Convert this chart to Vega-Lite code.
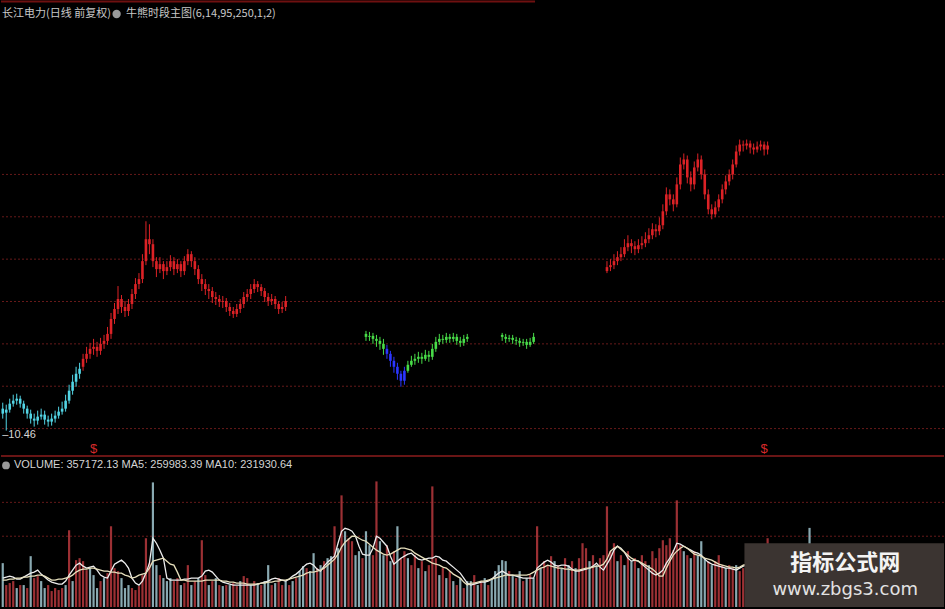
{
"$schema":"https://vega.github.io/schema/vega-lite/v6.json",
"width":945,"height":609,
"autosize":{"type":"fit","contains":"padding"},
"padding":0,
"background":"#000000",
"config":{"view":{"stroke":null},"axis":{"labels":false,"ticks":false,"domain":false,"grid":false,"minExtent":0,"maxExtent":0}},
"data":{"values":[
{"i":0,"o":11.01,"h":11.16,"l":10.76,"c":10.885,"s":"c","v":198000,"u":0,"m5":130500,"m10":121500},
{"i":1,"o":10.91,"h":11.11,"l":10.46,"c":10.985,"s":"c","v":99000,"u":1,"m5":135000,"m10":121500},
{"i":2,"o":10.985,"h":11.26,"l":10.91,"c":11.135,"s":"c","v":108000,"u":1,"m5":139500,"m10":126000},
{"i":3,"o":11.135,"h":11.36,"l":11.06,"c":11.21,"s":"c","v":117000,"u":1,"m5":135000,"m10":126000},
{"i":4,"o":11.21,"h":11.385,"l":11.11,"c":11.26,"s":"c","v":85500,"u":0,"m5":126000,"m10":130500},
{"i":5,"o":11.26,"h":11.335,"l":11.035,"c":11.135,"s":"c","v":99000,"u":1,"m5":126000,"m10":130500},
{"i":6,"o":11.135,"h":11.21,"l":10.885,"c":11.01,"s":"c","v":99000,"u":0,"m5":135000,"m10":135000},
{"i":7,"o":11.01,"h":11.085,"l":10.76,"c":10.885,"s":"c","v":85500,"u":1,"m5":144000,"m10":135000},
{"i":8,"o":10.885,"h":10.985,"l":10.635,"c":10.76,"s":"c","v":229500,"u":0,"m5":153000,"m10":139500},
{"i":9,"o":10.76,"h":10.885,"l":10.56,"c":10.71,"s":"c","v":130500,"u":1,"m5":157500,"m10":139500},
{"i":10,"o":10.71,"h":10.96,"l":10.61,"c":10.81,"s":"c","v":139500,"u":1,"m5":166500,"m10":144000},
{"i":11,"o":10.81,"h":11.01,"l":10.735,"c":10.86,"s":"c","v":117000,"u":0,"m5":148500,"m10":144000},
{"i":12,"o":10.86,"h":10.96,"l":10.61,"c":10.735,"s":"c","v":85500,"u":0,"m5":135000,"m10":139500},
{"i":13,"o":10.735,"h":10.835,"l":10.56,"c":10.685,"s":"c","v":99000,"u":1,"m5":121500,"m10":130500},
{"i":14,"o":10.685,"h":10.885,"l":10.585,"c":10.76,"s":"c","v":72000,"u":1,"m5":112500,"m10":121500},
{"i":15,"o":10.76,"h":10.96,"l":10.66,"c":10.835,"s":"c","v":85500,"u":1,"m5":108000,"m10":121500},
{"i":16,"o":10.835,"h":11.06,"l":10.76,"c":10.935,"s":"c","v":76500,"u":1,"m5":103500,"m10":126000},
{"i":17,"o":10.935,"h":11.185,"l":10.86,"c":11.01,"s":"c","v":85500,"u":1,"m5":103500,"m10":126000},
{"i":18,"o":11.01,"h":11.36,"l":10.935,"c":11.21,"s":"c","v":99000,"u":0,"m5":117000,"m10":130500},
{"i":19,"o":11.21,"h":11.61,"l":11.135,"c":11.46,"s":"c","v":346500,"u":1,"m5":144000,"m10":135000},
{"i":20,"o":11.46,"h":11.86,"l":11.36,"c":11.685,"s":"c","v":117000,"u":0,"m5":166500,"m10":144000},
{"i":21,"o":11.685,"h":12.06,"l":11.56,"c":11.885,"s":"c","v":211500,"u":1,"m5":189000,"m10":157500},
{"i":22,"o":11.885,"h":12.16,"l":11.76,"c":12.01,"s":"c","v":220500,"u":1,"m5":198000,"m10":166500},
{"i":23,"o":12.06,"h":12.385,"l":11.96,"c":12.26,"s":"r","v":207000,"u":1,"m5":184500,"m10":171000},
{"i":24,"o":12.26,"h":12.56,"l":12.16,"c":12.385,"s":"r","v":166500,"u":1,"m5":175500,"m10":171000},
{"i":25,"o":12.385,"h":12.66,"l":12.26,"c":12.51,"s":"r","v":175500,"u":0,"m5":180000,"m10":175500},
{"i":26,"o":12.51,"h":12.76,"l":12.36,"c":12.56,"s":"r","v":144000,"u":0,"m5":184500,"m10":175500,"sig":1},
{"i":27,"o":12.56,"h":12.685,"l":12.31,"c":12.46,"s":"r","v":85500,"u":0,"m5":166500,"m10":171000},
{"i":28,"o":12.46,"h":12.785,"l":12.36,"c":12.635,"s":"r","v":117000,"u":1,"m5":144000,"m10":166500},
{"i":29,"o":12.635,"h":12.86,"l":12.51,"c":12.71,"s":"r","v":130500,"u":0,"m5":135000,"m10":162000},
{"i":30,"o":12.71,"h":13.06,"l":12.61,"c":12.885,"s":"r","v":153000,"u":1,"m5":130500,"m10":162000},
{"i":31,"o":12.885,"h":13.41,"l":12.76,"c":13.26,"s":"r","v":364500,"u":1,"m5":162000,"m10":157500},
{"i":32,"o":13.26,"h":13.66,"l":13.135,"c":13.51,"s":"r","v":175500,"u":1,"m5":193500,"m10":157500},
{"i":33,"o":13.51,"h":14.085,"l":13.385,"c":13.76,"s":"r","v":162000,"u":1,"m5":202500,"m10":153000},
{"i":34,"o":13.76,"h":13.86,"l":13.41,"c":13.56,"s":"r","v":130500,"u":0,"m5":211500,"m10":153000},
{"i":35,"o":13.56,"h":13.71,"l":13.31,"c":13.46,"s":"r","v":85500,"u":0,"m5":198000,"m10":144000},
{"i":36,"o":13.46,"h":13.76,"l":13.335,"c":13.635,"s":"r","v":99000,"u":0,"m5":175500,"m10":139500},
{"i":37,"o":13.635,"h":14.01,"l":13.51,"c":13.885,"s":"r","v":85500,"u":1,"m5":130500,"m10":130500},
{"i":38,"o":13.885,"h":14.285,"l":13.76,"c":14.135,"s":"r","v":76500,"u":1,"m5":108000,"m10":135000},
{"i":39,"o":14.135,"h":14.41,"l":14.01,"c":14.26,"s":"r","v":94500,"u":1,"m5":99000,"m10":144000},
{"i":40,"o":14.26,"h":14.885,"l":14.16,"c":14.71,"s":"r","v":144000,"u":1,"m5":117000,"m10":148500},
{"i":41,"o":14.71,"h":15.71,"l":14.61,"c":15.26,"s":"r","v":310500,"u":1,"m5":153000,"m10":153000},
{"i":42,"o":15.26,"h":15.635,"l":14.885,"c":15.135,"s":"r","v":198000,"u":1,"m5":198000,"m10":175500},
{"i":43,"o":15.135,"h":15.26,"l":14.56,"c":14.71,"s":"r","v":562500,"u":0,"m5":310500,"m10":207000},
{"i":44,"o":14.71,"h":14.81,"l":14.31,"c":14.51,"s":"r","v":189000,"u":0,"m5":288000,"m10":211500},
{"i":45,"o":14.51,"h":14.81,"l":14.41,"c":14.635,"s":"r","v":144000,"u":1,"m5":256500,"m10":216000},
{"i":46,"o":14.635,"h":14.71,"l":14.26,"c":14.46,"s":"r","v":130500,"u":0,"m5":220500,"m10":220500},
{"i":47,"o":14.46,"h":14.71,"l":14.36,"c":14.56,"s":"r","v":117000,"u":0,"m5":130500,"m10":207000},
{"i":48,"o":14.56,"h":14.86,"l":14.46,"c":14.71,"s":"r","v":130500,"u":0,"m5":121500,"m10":193500},
{"i":49,"o":14.71,"h":14.81,"l":14.36,"c":14.51,"s":"r","v":117000,"u":1,"m5":121500,"m10":189000},
{"i":50,"o":14.51,"h":14.76,"l":14.41,"c":14.635,"s":"r","v":130500,"u":1,"m5":121500,"m10":157500},
{"i":51,"o":14.635,"h":14.71,"l":14.31,"c":14.46,"s":"r","v":99000,"u":0,"m5":121500,"m10":121500},
{"i":52,"o":14.46,"h":14.835,"l":14.36,"c":14.71,"s":"r","v":108000,"u":1,"m5":126000,"m10":121500},
{"i":53,"o":14.71,"h":15.01,"l":14.61,"c":14.885,"s":"r","v":189000,"u":1,"m5":126000,"m10":117000},
{"i":54,"o":14.885,"h":14.96,"l":14.56,"c":14.71,"s":"r","v":99000,"u":0,"m5":130500,"m10":117000},
{"i":55,"o":14.71,"h":14.81,"l":14.36,"c":14.51,"s":"r","v":117000,"u":1,"m5":130500,"m10":117000},
{"i":56,"o":14.51,"h":14.61,"l":14.135,"c":14.26,"s":"r","v":130500,"u":0,"m5":130500,"m10":117000},
{"i":57,"o":14.26,"h":14.385,"l":13.96,"c":14.135,"s":"r","v":301500,"u":1,"m5":139500,"m10":117000},
{"i":58,"o":14.135,"h":14.26,"l":13.86,"c":14.01,"s":"r","v":144000,"u":1,"m5":162000,"m10":121500},
{"i":59,"o":14.01,"h":14.135,"l":13.76,"c":13.96,"s":"r","v":99000,"u":0,"m5":166500,"m10":121500},
{"i":60,"o":13.96,"h":14.06,"l":13.66,"c":13.81,"s":"r","v":117000,"u":1,"m5":157500,"m10":121500},
{"i":61,"o":13.81,"h":13.935,"l":13.61,"c":13.76,"s":"r","v":130500,"u":0,"m5":139500,"m10":121500},
{"i":62,"o":13.76,"h":13.86,"l":13.56,"c":13.685,"s":"r","v":99000,"u":1,"m5":121500,"m10":121500},
{"i":63,"o":13.685,"h":13.835,"l":13.535,"c":13.71,"s":"r","v":94500,"u":0,"m5":112500,"m10":117000},
{"i":64,"o":13.71,"h":13.785,"l":13.435,"c":13.56,"s":"r","v":99000,"u":1,"m5":108000,"m10":117000},
{"i":65,"o":13.56,"h":13.66,"l":13.335,"c":13.46,"s":"r","v":99000,"u":0,"m5":103500,"m10":112500},
{"i":66,"o":13.46,"h":13.56,"l":13.285,"c":13.385,"s":"r","v":108000,"u":1,"m5":99000,"m10":112500},
{"i":67,"o":13.385,"h":13.635,"l":13.31,"c":13.51,"s":"r","v":94500,"u":1,"m5":99000,"m10":108000},
{"i":68,"o":13.51,"h":13.76,"l":13.41,"c":13.635,"s":"r","v":117000,"u":0,"m5":99000,"m10":108000},
{"i":69,"o":13.635,"h":13.935,"l":13.535,"c":13.81,"s":"r","v":139500,"u":1,"m5":99000,"m10":108000},
{"i":70,"o":13.81,"h":14.01,"l":13.71,"c":13.885,"s":"r","v":130500,"u":1,"m5":99000,"m10":103500},
{"i":71,"o":13.885,"h":14.135,"l":13.76,"c":14.01,"s":"r","v":99000,"u":0,"m5":99000,"m10":103500},
{"i":72,"o":14.01,"h":14.26,"l":13.91,"c":14.135,"s":"r","v":117000,"u":1,"m5":99000,"m10":103500},
{"i":73,"o":14.135,"h":14.21,"l":13.935,"c":14.06,"s":"r","v":108000,"u":0,"m5":103500,"m10":103500},
{"i":74,"o":14.06,"h":14.135,"l":13.835,"c":13.96,"s":"r","v":99000,"u":1,"m5":108000,"m10":108000},
{"i":75,"o":13.96,"h":14.035,"l":13.685,"c":13.81,"s":"r","v":117000,"u":0,"m5":112500,"m10":108000},
{"i":76,"o":13.81,"h":13.91,"l":13.585,"c":13.71,"s":"r","v":189000,"u":0,"m5":117000,"m10":112500},
{"i":77,"o":13.71,"h":13.885,"l":13.61,"c":13.76,"s":"r","v":99000,"u":1,"m5":126000,"m10":112500},
{"i":78,"o":13.76,"h":13.835,"l":13.51,"c":13.635,"s":"r","v":108000,"u":0,"m5":130500,"m10":117000},
{"i":79,"o":13.635,"h":13.71,"l":13.385,"c":13.51,"s":"r","v":130500,"u":1,"m5":126000,"m10":117000},
{"i":80,"o":13.51,"h":13.685,"l":13.41,"c":13.56,"s":"r","v":99000,"u":1,"m5":121500,"m10":121500},
{"i":81,"o":13.56,"h":13.835,"l":13.46,"c":13.71,"s":"r","v":117000,"u":0,"m5":117000,"m10":121500},
{"i":82,"v":99000,"u":1,"m5":126000,"m10":126000},
{"i":83,"v":117000,"u":0,"m5":139500,"m10":130500},
{"i":84,"v":130500,"u":1,"m5":148500,"m10":135000},
{"i":85,"v":162000,"u":0,"m5":162000,"m10":139500},
{"i":86,"v":184500,"u":0,"m5":180000,"m10":144000},
{"i":87,"v":175500,"u":1,"m5":193500,"m10":153000},
{"i":88,"v":162000,"u":0,"m5":198000,"m10":157500},
{"i":89,"v":243000,"u":0,"m5":189000,"m10":157500},
{"i":90,"v":175500,"u":1,"m5":171000,"m10":162000},
{"i":91,"v":189000,"u":0,"m5":162000,"m10":166500},
{"i":92,"v":207000,"u":1,"m5":184500,"m10":175500},
{"i":93,"v":220500,"u":0,"m5":202500,"m10":189000},
{"i":94,"v":229500,"u":0,"m5":216000,"m10":202500},
{"i":95,"v":364500,"u":1,"m5":229500,"m10":216000},
{"i":96,"v":265500,"u":0,"m5":288000,"m10":238500},
{"i":97,"v":504000,"u":1,"m5":342000,"m10":270000},
{"i":98,"v":342000,"u":0,"m5":355500,"m10":292500},
{"i":99,"v":310500,"u":1,"m5":351000,"m10":306000},
{"i":100,"v":297000,"u":1,"m5":342000,"m10":319500},
{"i":101,"v":234000,"u":0,"m5":319500,"m10":319500},
{"i":102,"v":252000,"u":0,"m5":274500,"m10":310500},
{"i":103,"v":220500,"u":1,"m5":238500,"m10":301500},
{"i":104,"o":12.885,"h":12.96,"l":12.71,"c":12.81,"s":"g","v":342000,"u":0,"m5":234000,"m10":297000},
{"i":105,"o":12.81,"h":12.935,"l":12.71,"c":12.835,"s":"g","v":279000,"u":0,"m5":234000,"m10":283500},
{"i":106,"o":12.835,"h":12.91,"l":12.635,"c":12.76,"s":"g","v":234000,"u":1,"m5":265500,"m10":270000},
{"i":107,"o":12.76,"h":12.86,"l":12.56,"c":12.71,"s":"g","v":567000,"u":1,"m5":319500,"m10":256500},
{"i":108,"o":12.71,"h":12.81,"l":12.485,"c":12.635,"s":"g","v":297000,"u":0,"m5":310500,"m10":247500},
{"i":109,"o":12.635,"h":12.76,"l":12.36,"c":12.51,"s":"g","v":234000,"u":0,"m5":292500,"m10":238500},
{"i":110,"o":12.51,"h":12.61,"l":12.26,"c":12.385,"s":"b","v":279000,"u":1,"m5":274500,"m10":234000},
{"i":111,"o":12.385,"h":12.46,"l":12.06,"c":12.21,"s":"b","v":207000,"u":0,"m5":229500,"m10":238500},
{"i":112,"o":12.21,"h":12.31,"l":11.91,"c":12.06,"s":"b","v":252000,"u":1,"m5":193500,"m10":247500},
{"i":113,"o":12.06,"h":12.16,"l":11.735,"c":11.885,"s":"b","v":364500,"u":0,"m5":207000,"m10":256500},
{"i":114,"o":11.885,"h":11.96,"l":11.56,"c":11.71,"s":"b","v":220500,"u":1,"m5":220500,"m10":265500},
{"i":115,"o":11.71,"h":12.06,"l":11.61,"c":11.96,"s":"b","v":252000,"u":1,"m5":229500,"m10":265500},
{"i":116,"o":11.96,"h":12.21,"l":11.91,"c":12.11,"s":"g","v":220500,"u":0,"m5":238500,"m10":261000},
{"i":117,"o":12.11,"h":12.335,"l":12.06,"c":12.21,"s":"g","v":189000,"u":1,"m5":243000,"m10":256500},
{"i":118,"o":12.21,"h":12.385,"l":12.11,"c":12.26,"s":"g","v":234000,"u":1,"m5":229500,"m10":243000},
{"i":119,"o":12.26,"h":12.435,"l":12.16,"c":12.31,"s":"g","v":175500,"u":0,"m5":216000,"m10":234000},
{"i":120,"o":12.31,"h":12.41,"l":12.135,"c":12.26,"s":"g","v":207000,"u":1,"m5":211500,"m10":225000},
{"i":121,"o":12.26,"h":12.485,"l":12.21,"c":12.36,"s":"g","v":162000,"u":0,"m5":216000,"m10":216000},
{"i":122,"o":12.36,"h":12.46,"l":12.185,"c":12.31,"s":"g","v":189000,"u":1,"m5":220500,"m10":207000},
{"i":123,"o":12.31,"h":12.635,"l":12.235,"c":12.51,"s":"g","v":544500,"u":1,"m5":220500,"m10":198000},
{"i":124,"o":12.51,"h":12.81,"l":12.435,"c":12.685,"s":"g","v":220500,"u":1,"m5":229500,"m10":193500},
{"i":125,"o":12.685,"h":12.885,"l":12.61,"c":12.76,"s":"g","v":144000,"u":0,"m5":225000,"m10":189000},
{"i":126,"o":12.76,"h":12.86,"l":12.635,"c":12.735,"s":"g","v":175500,"u":1,"m5":211500,"m10":180000},
{"i":127,"o":12.735,"h":12.91,"l":12.66,"c":12.81,"s":"g","v":130500,"u":0,"m5":207000,"m10":175500},
{"i":128,"o":12.81,"h":12.885,"l":12.66,"c":12.76,"s":"g","v":162000,"u":1,"m5":193500,"m10":162000},
{"i":129,"o":12.76,"h":12.91,"l":12.685,"c":12.81,"s":"g","v":117000,"u":0,"m5":180000,"m10":148500},
{"i":130,"o":12.81,"h":12.885,"l":12.61,"c":12.71,"s":"g","v":99000,"u":1,"m5":166500,"m10":139500},
{"i":131,"o":12.71,"h":12.81,"l":12.56,"c":12.66,"s":"g","v":130500,"u":0,"m5":153000,"m10":130500},
{"i":132,"o":12.66,"h":12.86,"l":12.585,"c":12.76,"s":"g","v":85500,"u":1,"m5":130500,"m10":112500},
{"i":133,"o":12.76,"h":12.885,"l":12.685,"c":12.81,"s":"g","v":117000,"u":0,"m5":108000,"m10":99000},
{"i":134,"v":117000,"u":0,"m5":99000,"m10":108000},
{"i":135,"v":144000,"u":1,"m5":103500,"m10":108000},
{"i":136,"v":99000,"u":0,"m5":108000,"m10":112500},
{"i":137,"v":117000,"u":1,"m5":112500,"m10":117000},
{"i":138,"v":130500,"u":0,"m5":112500,"m10":117000},
{"i":139,"v":99000,"u":1,"m5":117000,"m10":121500},
{"i":140,"v":130500,"u":0,"m5":126000,"m10":126000},
{"i":141,"v":162000,"u":0,"m5":139500,"m10":130500},
{"i":142,"v":189000,"u":0,"m5":153000,"m10":135000},
{"i":143,"o":12.86,"h":12.91,"l":12.71,"c":12.81,"s":"g","v":211500,"u":0,"m5":162000,"m10":139500},
{"i":144,"o":12.81,"h":12.885,"l":12.66,"c":12.76,"s":"g","v":207000,"u":0,"m5":153000,"m10":144000},
{"i":145,"o":12.76,"h":12.86,"l":12.685,"c":12.785,"s":"g","v":162000,"u":1,"m5":144000,"m10":144000},
{"i":146,"o":12.785,"h":12.86,"l":12.635,"c":12.735,"s":"g","v":144000,"u":0,"m5":144000,"m10":144000},
{"i":147,"o":12.735,"h":12.81,"l":12.61,"c":12.71,"s":"g","v":130500,"u":1,"m5":139500,"m10":144000},
{"i":148,"o":12.71,"h":12.785,"l":12.56,"c":12.66,"s":"g","v":162000,"u":0,"m5":135000,"m10":144000},
{"i":149,"o":12.66,"h":12.76,"l":12.585,"c":12.685,"s":"g","v":117000,"u":1,"m5":130500,"m10":144000},
{"i":150,"o":12.685,"h":12.76,"l":12.51,"c":12.61,"s":"g","v":130500,"u":0,"m5":130500,"m10":144000},
{"i":151,"o":12.61,"h":12.785,"l":12.56,"c":12.685,"s":"g","v":144000,"u":1,"m5":130500,"m10":148500},
{"i":152,"o":12.685,"h":12.91,"l":12.635,"c":12.81,"s":"g","v":130500,"u":0,"m5":130500,"m10":157500},
{"i":153,"v":364500,"u":1,"m5":175500,"m10":166500},
{"i":154,"v":175500,"u":0,"m5":189000,"m10":175500},
{"i":155,"v":207000,"u":1,"m5":202500,"m10":180000},
{"i":156,"v":189000,"u":1,"m5":211500,"m10":189000},
{"i":157,"v":229500,"u":1,"m5":202500,"m10":184500},
{"i":158,"v":207000,"u":0,"m5":189000,"m10":180000},
{"i":159,"v":189000,"u":1,"m5":184500,"m10":175500},
{"i":160,"v":175500,"u":0,"m5":189000,"m10":175500},
{"i":161,"v":220500,"u":1,"m5":189000,"m10":171000},
{"i":162,"v":189000,"u":0,"m5":184500,"m10":171000},
{"i":163,"v":207000,"u":1,"m5":171000,"m10":166500},
{"i":164,"v":175500,"u":0,"m5":162000,"m10":166500},
{"i":165,"v":220500,"u":1,"m5":162000,"m10":166500},
{"i":166,"v":288000,"u":1,"m5":166500,"m10":171000},
{"i":167,"v":265500,"u":1,"m5":171000,"m10":175500},
{"i":168,"v":207000,"u":0,"m5":175500,"m10":175500},
{"i":169,"v":234000,"u":1,"m5":184500,"m10":180000},
{"i":170,"v":189000,"u":0,"m5":198000,"m10":184500},
{"i":171,"v":220500,"u":1,"m5":180000,"m10":184500},
{"i":172,"v":234000,"u":1,"m5":166500,"m10":193500},
{"i":173,"o":14.46,"h":14.71,"l":14.41,"c":14.56,"s":"r","v":454500,"u":1,"m5":193500,"m10":216000},
{"i":174,"o":14.56,"h":14.76,"l":14.46,"c":14.61,"s":"r","v":252000,"u":1,"m5":220500,"m10":252000},
{"i":175,"o":14.61,"h":14.885,"l":14.51,"c":14.71,"s":"r","v":288000,"u":1,"m5":256500,"m10":265500},
{"i":176,"o":14.71,"h":14.96,"l":14.61,"c":14.81,"s":"r","v":207000,"u":0,"m5":274500,"m10":274500},
{"i":177,"o":14.81,"h":15.06,"l":14.71,"c":14.885,"s":"r","v":234000,"u":1,"m5":265500,"m10":261000},
{"i":178,"o":14.885,"h":15.26,"l":14.81,"c":15.06,"s":"r","v":189000,"u":0,"m5":247500,"m10":247500},
{"i":179,"o":15.06,"h":15.36,"l":14.96,"c":15.16,"s":"r","v":252000,"u":1,"m5":220500,"m10":234000},
{"i":180,"o":15.16,"h":15.26,"l":14.91,"c":15.085,"s":"r","v":207000,"u":0,"m5":207000,"m10":220500},
{"i":181,"o":15.085,"h":15.21,"l":14.86,"c":15.01,"s":"r","v":220500,"u":1,"m5":211500,"m10":211500},
{"i":182,"o":15.01,"h":15.26,"l":14.91,"c":15.11,"s":"r","v":175500,"u":0,"m5":207000,"m10":207000},
{"i":183,"o":15.11,"h":15.335,"l":15.01,"c":15.16,"s":"r","v":234000,"u":1,"m5":193500,"m10":198000},
{"i":184,"o":15.16,"h":15.435,"l":15.06,"c":15.26,"s":"r","v":207000,"u":1,"m5":180000,"m10":189000},
{"i":185,"o":15.26,"h":15.535,"l":15.16,"c":15.36,"s":"r","v":189000,"u":0,"m5":166500,"m10":180000},
{"i":186,"o":15.36,"h":15.66,"l":15.26,"c":15.51,"s":"r","v":252000,"u":1,"m5":153000,"m10":171000},
{"i":187,"o":15.51,"h":15.635,"l":15.31,"c":15.46,"s":"r","v":220500,"u":1,"m5":144000,"m10":157500},
{"i":188,"o":15.46,"h":15.81,"l":15.36,"c":15.61,"s":"r","v":265500,"u":1,"m5":153000,"m10":139500},
{"i":189,"o":15.61,"h":16.135,"l":15.51,"c":15.96,"s":"r","v":301500,"u":1,"m5":166500,"m10":139500},
{"i":190,"o":15.96,"h":16.56,"l":15.86,"c":16.385,"s":"r","v":279000,"u":1,"m5":198000,"m10":175500},
{"i":191,"o":16.385,"h":16.51,"l":16.11,"c":16.26,"s":"r","v":310500,"u":1,"m5":220500,"m10":207000},
{"i":192,"o":16.26,"h":16.385,"l":15.96,"c":16.135,"s":"r","v":256500,"u":1,"m5":252000,"m10":234000},
{"i":193,"o":16.135,"h":16.81,"l":16.06,"c":16.635,"s":"r","v":481500,"u":1,"m5":288000,"m10":252000},
{"i":194,"o":16.635,"h":17.31,"l":16.51,"c":17.135,"s":"r","v":279000,"u":1,"m5":283500,"m10":265500},
{"i":195,"o":17.135,"h":17.41,"l":17.01,"c":17.26,"s":"r","v":252000,"u":0,"m5":274500,"m10":274500},
{"i":196,"o":17.26,"h":17.36,"l":16.66,"c":16.81,"s":"r","v":234000,"u":1,"m5":265500,"m10":265500},
{"i":197,"o":16.81,"h":16.96,"l":16.46,"c":16.635,"s":"r","v":220500,"u":0,"m5":256500,"m10":252000},
{"i":198,"o":16.635,"h":17.21,"l":16.51,"c":17.06,"s":"r","v":252000,"u":1,"m5":247500,"m10":238500},
{"i":199,"o":17.06,"h":17.41,"l":16.96,"c":17.26,"s":"r","v":234000,"u":0,"m5":243000,"m10":234000},
{"i":200,"o":17.26,"h":17.36,"l":16.76,"c":16.885,"s":"r","v":297000,"u":0,"m5":234000,"m10":229500},
{"i":201,"o":16.885,"h":17.01,"l":16.26,"c":16.385,"s":"r","v":220500,"u":0,"m5":216000,"m10":220500},
{"i":202,"o":16.385,"h":16.51,"l":15.885,"c":16.01,"s":"r","v":207000,"u":1,"m5":202500,"m10":216000},
{"i":203,"o":16.01,"h":16.135,"l":15.76,"c":15.885,"s":"r","v":189000,"u":0,"m5":193500,"m10":211500},
{"i":204,"o":15.885,"h":16.21,"l":15.81,"c":16.06,"s":"r","v":207000,"u":1,"m5":189000,"m10":202500},
{"i":205,"o":16.06,"h":16.385,"l":15.96,"c":16.26,"s":"r","v":234000,"u":1,"m5":184500,"m10":193500},
{"i":206,"o":16.26,"h":16.635,"l":16.16,"c":16.51,"s":"r","v":189000,"u":1,"m5":180000,"m10":189000},
{"i":207,"o":16.51,"h":16.86,"l":16.385,"c":16.71,"s":"r","v":175500,"u":0,"m5":175500,"m10":184500},
{"i":208,"o":16.71,"h":17.01,"l":16.61,"c":16.885,"s":"r","v":189000,"u":1,"m5":175500,"m10":180000},
{"i":209,"o":16.885,"h":17.26,"l":16.76,"c":17.135,"s":"r","v":175500,"u":1,"m5":171000,"m10":180000},
{"i":210,"o":17.135,"h":17.61,"l":17.06,"c":17.46,"s":"r","v":189000,"u":0,"m5":166500,"m10":175500},
{"i":211,"o":17.46,"h":17.76,"l":17.36,"c":17.635,"s":"r","v":162000,"u":1,"m5":175500,"m10":180000},
{"i":212,"o":17.635,"h":17.735,"l":17.46,"c":17.61,"s":"r","v":175500,"u":1,"m5":184500,"m10":189000},
{"i":213,"o":17.61,"h":17.76,"l":17.51,"c":17.66,"s":"r","v":166500,"u":0,"m5":189000,"m10":193500},
{"i":214,"o":17.66,"h":17.735,"l":17.41,"c":17.56,"s":"r","v":184500,"u":1,"m5":193500,"m10":193500},
{"i":215,"o":17.56,"h":17.66,"l":17.385,"c":17.51,"s":"r","v":153000,"u":0,"m5":198000,"m10":193500},
{"i":216,"o":17.51,"h":17.71,"l":17.435,"c":17.585,"s":"r","v":175500,"u":1,"m5":198000,"m10":198000},
{"i":217,"o":17.585,"h":17.735,"l":17.485,"c":17.635,"s":"r","v":157500,"u":0,"m5":193500,"m10":198000},
{"i":218,"o":17.635,"h":17.71,"l":17.36,"c":17.51,"s":"r","v":193500,"u":1,"m5":193500,"m10":198000,"sig":1},
{"i":219,"o":17.51,"h":17.71,"l":17.385,"c":17.61,"s":"r","v":310500,"u":1,"m5":211500,"m10":202500},
{"i":220,"v":198000,"u":0,"m5":216000,"m10":202500},
{"i":221,"v":184500,"u":1,"m5":216000,"m10":207000},
{"i":222,"v":166500,"u":0,"m5":211500,"m10":207000},
{"i":223,"v":193500,"u":1,"m5":207000,"m10":207000},
{"i":224,"v":175500,"u":0,"m5":202500,"m10":207000},
{"i":225,"v":189000,"u":1,"m5":202500,"m10":207000},
{"i":226,"v":162000,"u":0,"m5":198000,"m10":207000},
{"i":227,"v":180000,"u":1,"m5":198000,"m10":211500},
{"i":228,"v":193500,"u":0,"m5":202500,"m10":211500},
{"i":229,"v":207000,"u":1,"m5":216000,"m10":216000},
{"i":230,"v":220500,"u":0,"m5":229500,"m10":220500},
{"i":231,"v":357172.13,"u":0,"m5":259983.39,"m10":231930.64}
]},
"layer":[
{"layer":[
{"data":{"values":[{}]},"mark":{"type":"rule","color":"#661919","strokeDash":[2,2],"strokeWidth":1},"encoding":{"y":{"datum":10.51,"type":"quantitative","scale":{"domain":[6.035,21.26],"nice":false,"zero":false},"axis":null}}},
{"data":{"values":[{}]},"mark":{"type":"rule","color":"#661919","strokeDash":[2,2],"strokeWidth":1},"encoding":{"y":{"datum":11.5725,"type":"quantitative","scale":{"domain":[6.035,21.26],"nice":false,"zero":false},"axis":null}}},
{"data":{"values":[{}]},"mark":{"type":"rule","color":"#661919","strokeDash":[2,2],"strokeWidth":1},"encoding":{"y":{"datum":12.635,"type":"quantitative","scale":{"domain":[6.035,21.26],"nice":false,"zero":false},"axis":null}}},
{"data":{"values":[{}]},"mark":{"type":"rule","color":"#661919","strokeDash":[2,2],"strokeWidth":1},"encoding":{"y":{"datum":13.6975,"type":"quantitative","scale":{"domain":[6.035,21.26],"nice":false,"zero":false},"axis":null}}},
{"data":{"values":[{}]},"mark":{"type":"rule","color":"#661919","strokeDash":[2,2],"strokeWidth":1},"encoding":{"y":{"datum":14.76,"type":"quantitative","scale":{"domain":[6.035,21.26],"nice":false,"zero":false},"axis":null}}},
{"data":{"values":[{}]},"mark":{"type":"rule","color":"#661919","strokeDash":[2,2],"strokeWidth":1},"encoding":{"y":{"datum":15.8225,"type":"quantitative","scale":{"domain":[6.035,21.26],"nice":false,"zero":false},"axis":null}}},
{"data":{"values":[{}]},"mark":{"type":"rule","color":"#661919","strokeDash":[2,2],"strokeWidth":1},"encoding":{"y":{"datum":16.885,"type":"quantitative","scale":{"domain":[6.035,21.26],"nice":false,"zero":false},"axis":null}}},
{"transform":[{"filter":"isValid(datum.h)"}],
 "mark":{"type":"rule","strokeWidth":1},
 "encoding":{
  "x":{"field":"i","type":"quantitative","scale":{"domain":[-0.5,269.5],"nice":false,"zero":false},"axis":null},
  "y":{"field":"l","type":"quantitative","scale":{"domain":[6.035,21.26],"nice":false,"zero":false},"axis":null},
  "y2":{"field":"h"},
  "color":{"condition":[{"test":"datum.s==='c'","value":"#52d4e4"},{"test":"datum.s==='g'","value":"#48dc48"},{"test":"datum.s==='b'","value":"#2b36ff"}],"value":"#dc2226"}}},
{"transform":[{"filter":"isValid(datum.h)"}],
 "mark":{"type":"rule","strokeWidth":2.6},
 "encoding":{
  "x":{"field":"i","type":"quantitative","scale":{"domain":[-0.5,269.5],"nice":false,"zero":false},"axis":null},
  "y":{"field":"o","type":"quantitative","scale":{"domain":[6.035,21.26],"nice":false,"zero":false},"axis":null},
  "y2":{"field":"c"},
  "color":{"condition":[{"test":"datum.s==='c'","value":"#52d4e4"},{"test":"datum.s==='g'","value":"#48dc48"},{"test":"datum.s==='b'","value":"#2b36ff"}],"value":"#dc2226"}}},
{"transform":[{"filter":"datum.i === 1"}],
 "mark":{"type":"text","text":"–10.46","align":"left","baseline":"middle","dx":-4,"dy":4,"font":"Liberation Sans","fontSize":11,"color":"#d6d6d6"},
 "encoding":{
  "x":{"field":"i","type":"quantitative","scale":{"domain":[-0.5,269.5],"nice":false,"zero":false},"axis":null},
  "y":{"field":"l","type":"quantitative","scale":{"domain":[6.035,21.26],"nice":false,"zero":false},"axis":null}}},
{"transform":[{"filter":"datum.sig === 1"}],
 "mark":{"type":"text","text":"$","align":"center","baseline":"middle","font":"Liberation Sans","fontSize":13,"color":"#d62a2a"},
 "encoding":{
  "x":{"field":"i","type":"quantitative","scale":{"domain":[-0.5,269.5],"nice":false,"zero":false},"axis":null},
  "y":{"datum":10.01,"type":"quantitative","scale":{"domain":[6.035,21.26],"nice":false,"zero":false},"axis":null}}},
{"data":{"values":[{}]},
 "mark":{"type":"rule","color":"#8c1c1c","strokeWidth":1.5},
 "encoding":{
  "y":{"datum":9.82,"type":"quantitative","scale":{"domain":[6.035,21.26],"nice":false,"zero":false},"axis":null}}},
{"data":{"values":[{}]},
 "mark":{"type":"rule","color":"#6e1010","strokeWidth":2},
 "encoding":{
  "x":{"datum":-0.5,"type":"quantitative","scale":{"domain":[-0.5,269.5],"nice":false,"zero":false},"axis":null},
  "x2":{"datum":152.4},
  "y":{"datum":21.22,"type":"quantitative","scale":{"domain":[6.035,21.26],"nice":false,"zero":false},"axis":null}}},
{"data":{"values":[{}]},
 "mark":{"type":"text","text":"长江电力(日线 前复权)","align":"left","baseline":"middle","font":"Noto Sans CJK SC","fontSize":11,"color":"#c8c8c8"},
 "encoding":{
  "x":{"datum":-0.2,"type":"quantitative","scale":{"domain":[-0.5,269.5],"nice":false,"zero":false},"axis":null},
  "y":{"datum":20.91,"type":"quantitative","scale":{"domain":[6.035,21.26],"nice":false,"zero":false},"axis":null}}},
{"data":{"values":[{}]},
 "mark":{"type":"point","filled":true,"size":70,"color":"#9a9a9a","opacity":1},
 "encoding":{
  "x":{"datum":32.6,"type":"quantitative","scale":{"domain":[-0.5,269.5],"nice":false,"zero":false},"axis":null},
  "y":{"datum":20.91,"type":"quantitative","scale":{"domain":[6.035,21.26],"nice":false,"zero":false},"axis":null}}},
{"data":{"values":[{}]},
 "mark":{"type":"text","text":"牛熊时段主图(6,14,95,250,1,2)","align":"left","baseline":"middle","font":"Noto Sans CJK SC","fontSize":11,"color":"#c8c8c8"},
 "encoding":{
  "x":{"datum":35.3,"type":"quantitative","scale":{"domain":[-0.5,269.5],"nice":false,"zero":false},"axis":null},
  "y":{"datum":20.91,"type":"quantitative","scale":{"domain":[6.035,21.26],"nice":false,"zero":false},"axis":null}}}
]},
{"layer":[
{"data":{"values":[{}]},"mark":{"type":"rule","color":"#661919","strokeDash":[2,2],"strokeWidth":1},"encoding":{"y":{"datum":319500,"type":"quantitative","scale":{"domain":[0,2740500],"nice":false,"zero":false},"axis":null}}},
{"data":{"values":[{}]},"mark":{"type":"rule","color":"#661919","strokeDash":[2,2],"strokeWidth":1},"encoding":{"y":{"datum":472500,"type":"quantitative","scale":{"domain":[0,2740500],"nice":false,"zero":false},"axis":null}}},
{"mark":{"type":"rule","strokeWidth":2.2},
 "encoding":{
  "x":{"field":"i","type":"quantitative","scale":{"domain":[-0.5,269.5],"nice":false,"zero":false},"axis":null},
  "y":{"field":"v","type":"quantitative","scale":{"domain":[0,2740500],"nice":false,"zero":false},"axis":null},
  "y2":{"datum":0},
  "color":{"condition":{"test":"datum.u === 1","value":"#9c3034"},"value":"#89a9b1"}}},
{"mark":{"type":"line","color":"#ececec","strokeWidth":1.3},
 "encoding":{
  "x":{"field":"i","type":"quantitative","scale":{"domain":[-0.5,269.5],"nice":false,"zero":false},"axis":null},
  "y":{"field":"m5","type":"quantitative","scale":{"domain":[0,2740500],"nice":false,"zero":false},"axis":null}}},
{"mark":{"type":"line","color":"#e6dfbc","strokeWidth":1.3},
 "encoding":{
  "x":{"field":"i","type":"quantitative","scale":{"domain":[-0.5,269.5],"nice":false,"zero":false},"axis":null},
  "y":{"field":"m10","type":"quantitative","scale":{"domain":[0,2740500],"nice":false,"zero":false},"axis":null}}},
{"data":{"values":[{}]},
 "mark":{"type":"point","filled":true,"size":60,"color":"#9a9a9a","opacity":1},
 "encoding":{
  "x":{"datum":0.93,"type":"quantitative","scale":{"domain":[-0.5,269.5],"nice":false,"zero":false},"axis":null},
  "y":{"datum":639000,"type":"quantitative","scale":{"domain":[0,2740500],"nice":false,"zero":false},"axis":null}}},
{"data":{"values":[{}]},
 "mark":{"type":"text","text":"VOLUME: 357172.13 MA5: 259983.39 MA10: 231930.64","align":"left","baseline":"middle","font":"Liberation Sans","fontSize":11,"color":"#d4d4d4"},
 "encoding":{
  "x":{"datum":3.2,"type":"quantitative","scale":{"domain":[-0.5,269.5],"nice":false,"zero":false},"axis":null},
  "y":{"datum":639000,"type":"quantitative","scale":{"domain":[0,2740500],"nice":false,"zero":false},"axis":null}}},
{"data":{"values":[{}]},
 "mark":{"type":"rect","color":"#3b3431"},
 "encoding":{
  "x":{"datum":212.36,"type":"quantitative","scale":{"domain":[-0.5,269.5],"nice":false,"zero":false},"axis":null},
  "x2":{"datum":269.5},
  "y":{"datum":288000,"type":"quantitative","scale":{"domain":[0,2740500],"nice":false,"zero":false},"axis":null},
  "y2":{"datum":0}}},
{"data":{"values":[{}]},
 "mark":{"type":"text","text":"指标公式网","align":"center","baseline":"middle","font":"Noto Sans CJK SC","fontWeight":"bold","fontSize":22,"color":"#f4f4f4"},
 "encoding":{
  "x":{"datum":241.2,"type":"quantitative","scale":{"domain":[-0.5,269.5],"nice":false,"zero":false},"axis":null},
  "y":{"datum":198000,"type":"quantitative","scale":{"domain":[0,2740500],"nice":false,"zero":false},"axis":null}}},
{"data":{"values":[{}]},
 "mark":{"type":"text","text":"www.zbgs3.com","align":"center","baseline":"middle","font":"DejaVu Sans","fontSize":18,"color":"#e2e2e2"},
 "encoding":{
  "x":{"datum":241.2,"type":"quantitative","scale":{"domain":[-0.5,269.5],"nice":false,"zero":false},"axis":null},
  "y":{"datum":76500,"type":"quantitative","scale":{"domain":[0,2740500],"nice":false,"zero":false},"axis":null}}}
]}
],
"resolve":{"scale":{"y":"independent"}}
}
